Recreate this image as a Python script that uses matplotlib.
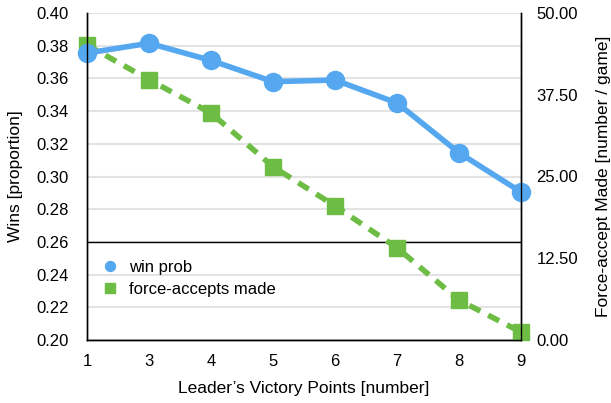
import numpy as np
import matplotlib.pyplot as plt

plt.rcParams['font.family'] = ['Liberation Sans', 'DejaVu Sans']

victory_points = ["1", "3", "4", "5", "6", "7", "8", "9"]
win_prob = [0.3755, 0.3815, 0.371, 0.358, 0.359, 0.345, 0.3145, 0.2905]
force_accepts = [45.1, 39.8, 34.7, 26.5, 20.5, 14.1, 6.1, 1.2]

blue = "#55a8f0"
green = "#6dbd45"

fig = plt.figure(figsize=(6.11, 4.03), dpi=100)
ax = fig.add_axes([87 / 611, 63 / 403, 434 / 611, 327 / 403])
ax2 = ax.twinx()

x = np.arange(len(victory_points))

ax.set_ylim(0.20, 0.40)
ax.set_yticks(np.arange(0.20, 0.401, 0.02))
ax.set_yticklabels([f"{v:.2f}" for v in np.arange(0.20, 0.401, 0.02)])
ax.set_xlim(x[0], x[-1])
ax.set_xticks(x)
ax.set_xticklabels(victory_points)
ax.grid(axis='y', color='#e3e3e3', linewidth=1.5)
ax.set_axisbelow(True)
ax.axhline(0.26, color='black', linewidth=1, zorder=1)

ax2.set_ylim(0, 50)
ax2.set_yticks([0, 12.5, 25, 37.5, 50])
ax2.set_yticklabels(["0.00", "12.50", "25.00", "37.50", "50.00"])

ln2, = ax2.plot(x, force_accepts, color=green, linewidth=4, linestyle=(0, (2.2, 1.6)),
                marker='s', markersize=12, clip_on=False, label="force-accepts made")
ln1, = ax2.plot(x, [(v - 0.20) * 250 for v in win_prob], color=blue, linewidth=4,
                marker='o', markersize=13, clip_on=False, label="win prob")

for a in (ax, ax2):
    a.spines['top'].set_visible(False)
    for s in ('left', 'right', 'bottom'):
        a.spines[s].set_linewidth(1)
    a.tick_params(length=0, labelsize=12)
ax.tick_params(axis='y', pad=13)
ax.tick_params(axis='x', pad=10)
ax2.tick_params(axis='y', pad=11)

ax.set_xlabel("Leader\u2019s Victory Points [number]", fontsize=12.5, labelpad=9)
ax.set_ylabel("Wins [proportion]", fontsize=12.5, labelpad=10)
ax2.set_ylabel("Force-accept Made [number / game]", fontsize=12.5, labelpad=13)

leg = ax.legend([ln1, ln2], ["win prob", "force-accepts made"], loc='lower left',
                bbox_to_anchor=(0.0, 0.085), frameon=False, fontsize=12,
                markerscale=0.55, handlelength=1.0, handletextpad=0.6, labelspacing=0.45)
for h in leg.legend_handles:
    h.set_linestyle('None')

fig.savefig("out.png", dpi=100)
